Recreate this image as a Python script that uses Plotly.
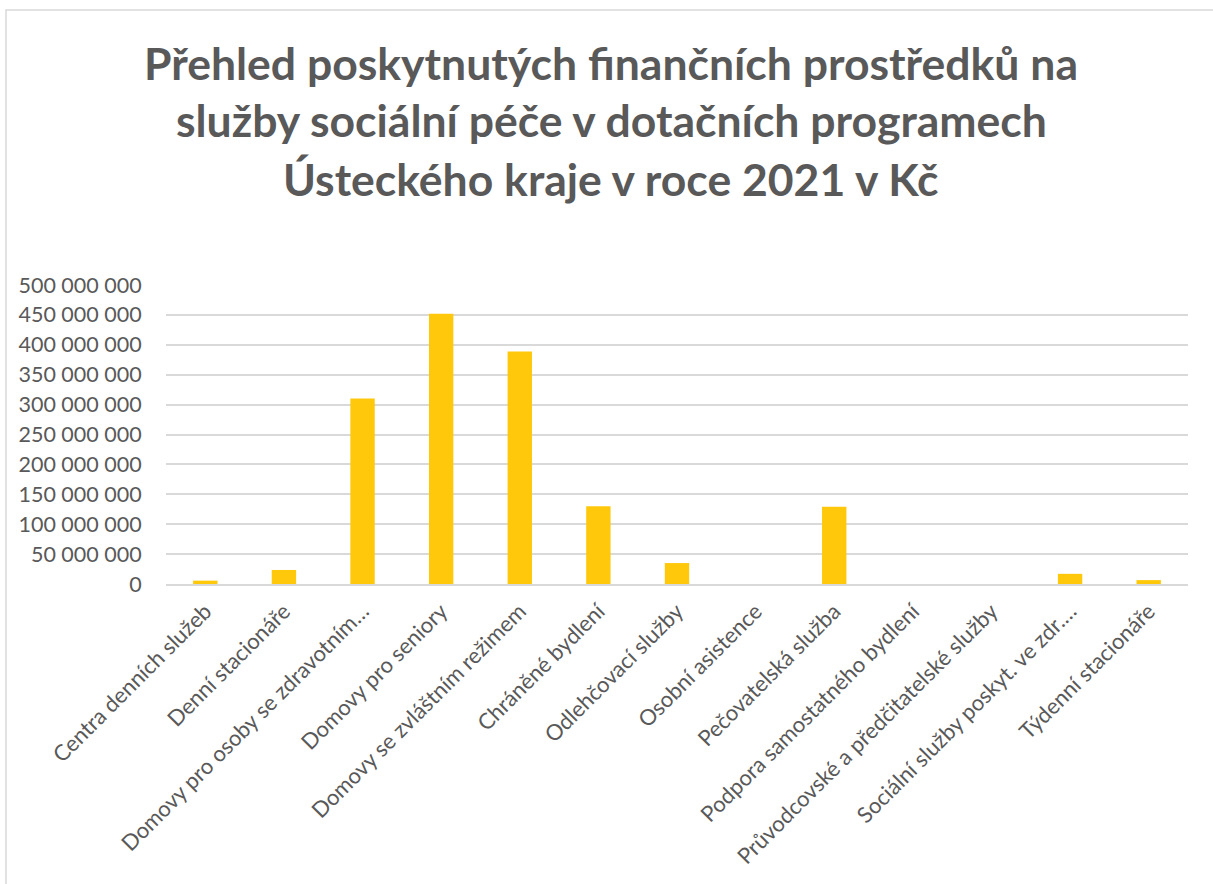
import plotly.graph_objects as go

categories = [
    "Centra denních služeb",
    "Denní stacionáře",
    "Domovy pro osoby se zdravotním…",
    "Domovy pro seniory",
    "Domovy se zvláštním režimem",
    "Chráněné bydlení",
    "Odlehčovací služby",
    "Osobní asistence",
    "Pečovatelská služba",
    "Podpora samostatného bydlení",
    "Průvodcovské a předčitatelské služby",
    "Sociální služby poskyt. ve zdr.…",
    "Týdenní stacionáře",
]
values = [
    5_600_000,
    23_500_000,
    310_000_000,
    452_000_000,
    389_000_000,
    130_000_000,
    35_000_000,
    0,
    129_000_000,
    0,
    0,
    17_000_000,
    6_500_000,
]
y_ticks = [0, 50_000_000, 100_000_000, 150_000_000, 200_000_000, 250_000_000,
           300_000_000, 350_000_000, 400_000_000, 450_000_000, 500_000_000]

title_lines = [
    "Přehled poskytnutých finančních prostředků na",
    "služby sociální péče v dotačních programech",
    "Ústeckého kraje v roce 2021 v Kč",
]

FONT = "Lato"
GRAY = "#595959"
W, H = 1213, 884
L, R, T, B = 166, 25, 285, 300
PH = H - T - B
PW = W - L - R

fig = go.Figure(go.Bar(
    x=categories, y=values,
    marker=dict(color="#FFC80A", line=dict(width=0)),
))

annotations = []
for i, line in enumerate(title_lines):
    yc = 62 + 58 * i
    annotations.append(dict(
        text=line, xref="paper", yref="paper",
        x=(611 - L) / PW, y=(H - B - yc) / PH,
        xanchor="center", yanchor="middle", showarrow=False,
        font=dict(family=FONT, size=44.5, color=GRAY, weight="bold"),
    ))

fig.update_layout(
    width=W, height=H,
    paper_bgcolor="white", plot_bgcolor="white",
    margin=dict(l=L, r=R, t=T, b=B),
    bargap=0.69,
    separators=", ",
    showlegend=False,
    font=dict(family=FONT, color=GRAY),
    annotations=annotations,
    xaxis=dict(
        tickangle=-45,
        tickfont=dict(family=FONT, size=22, color=GRAY),
        showgrid=False,
        showline=True, linecolor="#d9d9d9", linewidth=1.5,
        ticks="outside", ticklen=4, tickcolor="rgba(0,0,0,0)",
    ),
    yaxis=dict(
        range=[0, 500_000_000],
        tickvals=y_ticks,
        tickformat=",d",
        tickfont=dict(family=FONT, size=21.5, color=GRAY),
        showgrid=True, gridcolor="#d9d9d9", gridwidth=1.5,
        zeroline=False, showline=False,
        ticks="outside", ticklen=19, tickcolor="rgba(0,0,0,0)",
    ),
    shapes=[dict(
        type="rect", xref="paper", yref="paper",
        x0=(6 - L) / PW, x1=1.2, y0=-1.2, y1=(H - B - 10) / PH,
        line=dict(color="#d9d9d9", width=1.5),
        fillcolor="rgba(0,0,0,0)", layer="below",
    )],
)

fig.write_html(
    "out.html",
    config={"displayModeBar": False},
    post_script="document.body.style.margin='0';document.body.style.overflow='hidden';",
)
